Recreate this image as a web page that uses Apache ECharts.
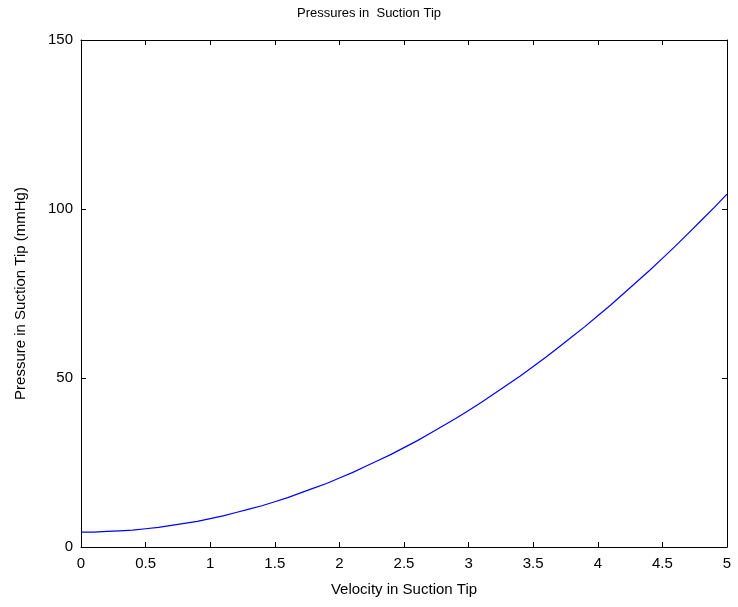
<!DOCTYPE html>
<html>
<head>
<meta charset="utf-8">
<script src="https://cdn.jsdelivr.net/npm/echarts@6/dist/echarts.min.js"></script>
<style>html,body{margin:0;padding:0;background:#fff;}#c{width:738px;height:607px;}</style>
</head>
<body>
<div id="c"></div>
<script>
const velocity = [0,0.1,0.2,0.3,0.4,0.5,0.6,0.7,0.8,0.9,1.0,1.1,1.2,1.3,1.4,1.5,1.6,1.7,1.8,1.9,2.0,2.1,2.2,2.3,2.4,2.5,2.6,2.7,2.8,2.9,3.0,3.1,3.2,3.3,3.4,3.5,3.6,3.7,3.8,3.9,4.0,4.1,4.2,4.3,4.4,4.5,4.6,4.7,4.8,4.9,5.0];
const pressure = [4.4,4.4,4.6,4.8,5.0,5.4,5.8,6.4,7.0,7.6,8.4,9.2,10.2,11.2,12.2,13.4,14.6,16.0,17.4,18.8,20.4,22.0,23.8,25.6,27.4,29.4,31.4,33.6,35.8,38.0,40.4,42.8,45.4,48.0,50.6,53.4,56.2,59.2,62.2,65.2,68.4,71.6,75.0,78.4,81.8,85.4,89.0,92.8,96.6,100.4,104.4];
const titleText = 'Pressures in  Suction Tip';
const xName = 'Velocity in Suction Tip';
const yName = 'Pressure in Suction Tip (mmHg)';

const chart = echarts.init(document.getElementById('c'), null, {renderer:'canvas'});
const font = 'Liberation Sans, Arial, sans-serif';
const axisLine = {show:true, onZero:false, lineStyle:{color:'#000', width:1}};
const tick = {show:true, inside:true, length:5, lineStyle:{color:'#000'}};
chart.setOption({
  animation:false,
  backgroundColor:'#fff',
  title:{text:titleText, left:'center', top:2, textStyle:{fontFamily:font, fontSize:13, fontWeight:'normal', color:'#000'}},
  grid:{left:81, right:11, top:40, bottom:60, containLabel:false},
  xAxis:[
    {type:'value', min:0, max:5, interval:0.5, position:'bottom', axisLine, axisTick:tick, splitLine:{show:false},
     axisLabel:{color:'#000', fontFamily:font, fontSize:15, margin:9},
     name:xName, nameLocation:'middle', nameGap:35, nameTextStyle:{color:'#000', fontFamily:font, fontSize:15}},
    {type:'value', min:0, max:5, interval:0.5, position:'top', axisLine, axisTick:tick, splitLine:{show:false}, axisLabel:{show:false}}
  ],
  yAxis:[
    {type:'value', min:0, max:150, interval:50, position:'left', axisLine, axisTick:tick, splitLine:{show:false},
     axisLabel:{color:'#000', fontFamily:font, fontSize:15, margin:8},
     name:yName, nameLocation:'middle', nameGap:53, nameTextStyle:{color:'#000', fontFamily:font, fontSize:15}},
    {type:'value', min:0, max:150, interval:50, position:'right', axisLine, axisTick:tick, splitLine:{show:false}, axisLabel:{show:false}}
  ],
  series:[{type:'line', xAxisIndex:0, yAxisIndex:0, data:velocity.map((v,i)=>[v,pressure[i]]), showSymbol:false, symbol:'none',
    lineStyle:{color:'#0000ff', width:1.2}}]
});
</script>
</body>
</html>
